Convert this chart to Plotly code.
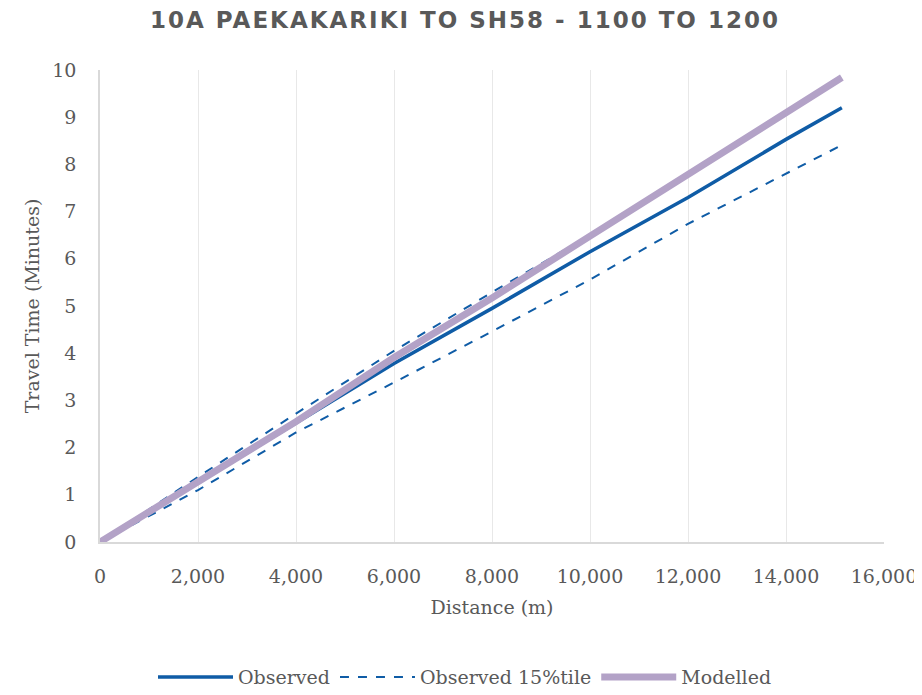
import plotly.graph_objects as go

distance = [0, 2000, 4000, 6000, 8000, 10000, 12000, 14000, 15140]
observed = [0, 1.27, 2.52, 3.78, 4.95, 6.15, 7.30, 8.53, 9.20]
observed_15 = [0, 1.10, 2.32, 3.38, 4.46, 5.56, 6.74, 7.80, 8.41]
observed_upper = [0, 1.38, 2.72, 4.05, 5.29, 6.50, 7.78, 9.08, 9.82]
modelled = [0, 1.28, 2.55, 3.91, 5.17, 6.48, 7.80, 9.10, 9.84]

blue = "#0F5CA6"
lav = "#B3A2C7"
grey = "#595959"
serif = "DejaVu Serif, Liberation Serif, serif"
fs = 19

fig = go.Figure()
fig.add_trace(go.Scatter(x=distance, y=observed, mode="lines", name="Observed",
                         line=dict(color=blue, width=3.5)))
fig.add_trace(go.Scatter(x=distance, y=observed_15, mode="lines", name="Observed 15%tile",
                         line=dict(color=blue, width=2, dash="dash")))
fig.add_trace(go.Scatter(x=distance, y=observed_upper, mode="lines", name="Observed 85%tile",
                         showlegend=False, line=dict(color=blue, width=2, dash="dash")))
fig.add_trace(go.Scatter(x=distance, y=modelled, mode="lines", name="Modelled",
                         line=dict(color=lav, width=7)))

fig.update_layout(
    width=914, height=687,
    paper_bgcolor="white", plot_bgcolor="white",
    margin=dict(l=92, r=38, t=62, b=153),
    title=dict(text='<span style="letter-spacing:2px"><b>10A PAEKAKARIKI TO SH58 - 1100 TO 1200</b></span>',
               x=0.5, xanchor="center", y=0.9825, yanchor="middle",
               font=dict(family="DejaVu Sans, Open Sans, sans-serif", size=23, color=grey)),
    font=dict(family=serif, size=fs, color=grey),
    xaxis=dict(range=[0, 16000], dtick=2000, tickformat=",", showgrid=True,
               gridcolor="#E8E8E8", gridwidth=1, showline=True, linecolor="#D9D9D9",
               linewidth=1.5, zeroline=False, ticks="", automargin=False,
               ticklabelstandoff=16,
               title=dict(text="Distance (m)", font=dict(family=serif, size=fs, color=grey), standoff=15),
               tickfont=dict(family=serif, size=fs, color=grey)),
    yaxis=dict(range=[0, 10], dtick=1, showgrid=False, showline=True, linecolor="#D9D9D9",
               linewidth=1.5, zeroline=False, ticks="", automargin=False,
               ticklabelstandoff=18,
               title=dict(text="Travel Time (Minutes)", font=dict(family=serif, size=fs, color=grey), standoff=8),
               tickfont=dict(family=serif, size=fs, color=grey)),
    legend=dict(orientation="h", x=0.5, xanchor="center", xref="container",
                y=0.026, yanchor="middle", yref="container",
                font=dict(family=serif, size=fs, color=grey), itemwidth=75,
                tracegroupgap=0),
    showlegend=True,
)

fig.write_html("out.html")
